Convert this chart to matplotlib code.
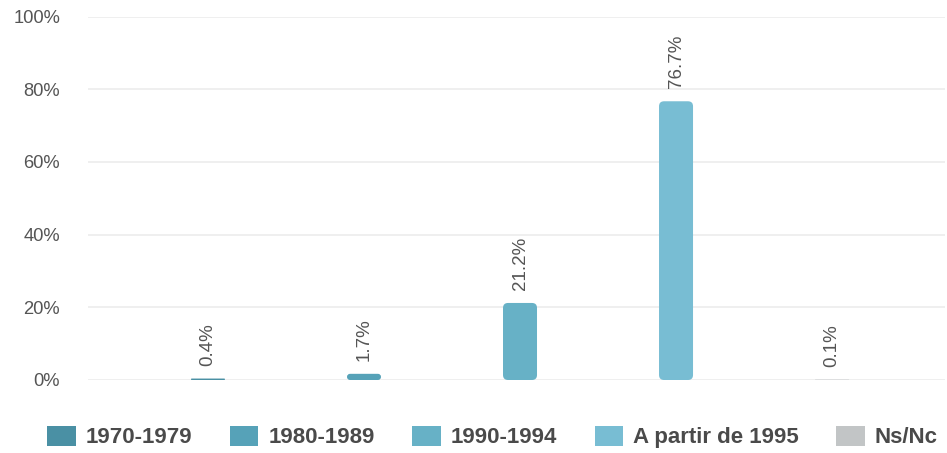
"""Bar chart: share by period (percent), with rounded bars and bottom legend."""

import matplotlib

matplotlib.use("Agg")
import matplotlib.pyplot as plt
from matplotlib.patches import FancyBboxPatch, Patch

CATEGORIES = ["1970-1979", "1980-1989", "1990-1994", "A partir de 1995", "Ns/Nc"]
VALUES = [0.4, 1.7, 21.2, 76.7, 0.1]
LABELS = ["0.4%", "1.7%", "21.2%", "76.7%", "0.1%"]
COLORS = ["#4a90a4", "#56a2b8", "#67b1c6", "#78bdd3", "#c2c5c6"]
Y_TICKS = [0, 20, 40, 60, 80, 100]

plt.rcParams["font.family"] = ["Liberation Sans", "DejaVu Sans"]

W, H = 947, 453
fig = plt.figure(figsize=(W / 100, H / 100), dpi=100)
ax = fig.add_axes([88 / W, (H - 380) / H, (945 - 88) / W, (380 - 16.6) / H])

ax.set_xlim(-0.769, 4.724)
ax.set_ylim(0, 100)
ax.set_yticks(Y_TICKS)
ax.set_yticklabels([f"{t}%" for t in Y_TICKS])
ax.set_xticks([])
ax.tick_params(axis="y", length=0, pad=20, labelsize=13.2, labelcolor="#555555")
for s in ax.spines.values():
    s.set_visible(False)
ax.grid(axis="y", color="#ececec", linewidth=1.2)
ax.set_axisbelow(True)

# pixel scale for corner rounding
x0, y0 = ax.transData.transform((0, 0))
x1, y1 = ax.transData.transform((1, 1))
px_x = x1 - x0  # pixels per x unit
px_y = y1 - y0  # pixels per y unit

bar_w = 34 / px_x
bars = ax.bar(range(len(VALUES)), VALUES, width=bar_w, color=COLORS)
for rect, color in zip(bars, COLORS):
    rect.set_visible(False)
    h_px = rect.get_height() * px_y
    r_px = min(5.0, h_px / 2)
    r = r_px / px_x
    ax.add_patch(
        FancyBboxPatch(
            (rect.get_x(), rect.get_y()),
            rect.get_width(),
            rect.get_height(),
            boxstyle=f"round,pad=0,rounding_size={r}",
            mutation_aspect=px_x / px_y,
            facecolor=color,
            edgecolor="none",
        )
    )

for i, (v, lab) in enumerate(zip(VALUES, LABELS)):
    ax.annotate(
        lab,
        (i, v),
        xytext=(0, 13),
        textcoords="offset pixels",
        rotation=90,
        ha="center",
        va="bottom",
        fontsize=13.5,
        color="#555555",
    )

handles = [Patch(facecolor=c, edgecolor="none") for c in COLORS]
fig.legend(
    handles,
    CATEGORIES,
    loc="center",
    bbox_to_anchor=(492.5 / W, 1 - 437 / H),
    ncol=5,
    frameon=False,
    prop={"weight": "bold", "size": 16},
    labelcolor="#4a4a4a",
    handlelength=1.27,
    handleheight=1.05,
    handletextpad=0.45,
    columnspacing=1.7,
    borderpad=0,
    borderaxespad=0,
)

fig.savefig("out.png", dpi=100)
